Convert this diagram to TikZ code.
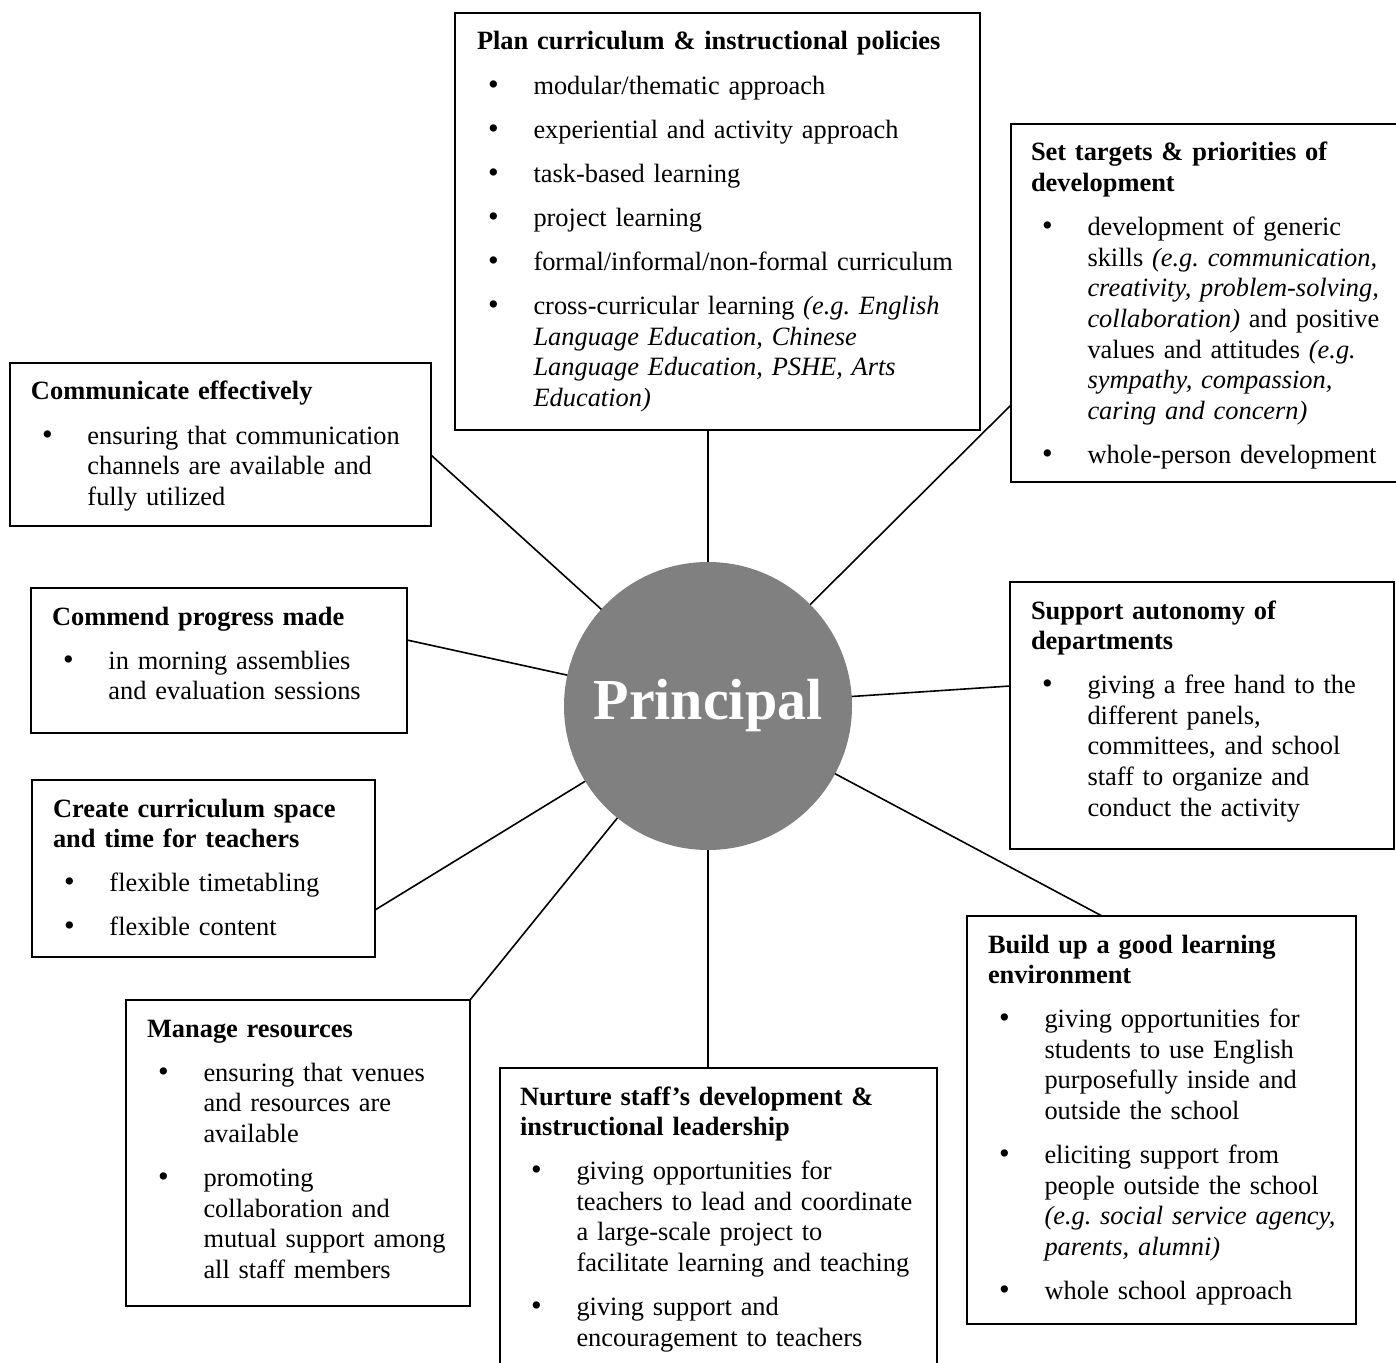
\documentclass[tikz,border=0pt]{standalone}
\usepackage{fontspec}
\setmainfont{Liberation Serif}
\frenchspacing
\definecolor{circgray}{HTML}{808080}
\newcommand{\bxttl}[1]{\noindent\rule{0pt}{18.5pt}\textbf{#1}\par}
\newcommand{\bxitm}[1]{\vspace{6.75pt}\hangindent=28.25pt\hangafter=1\noindent\makebox[28.25pt][l]{\hspace{5.6pt}\scalebox{1.15}{•}}#1\par}
\begin{document}
\begin{tikzpicture}[x=0.5pt,y=-0.5pt,
  bx/.style={draw, line width=1pt, rectangle, inner sep=0pt, outer sep=0pt, anchor=north west},
  txt/.style={anchor=north west, inner sep=0pt, outer sep=0pt, text width=300pt, align=left, font=\fontsize{13.2}{15.3}\selectfont\frenchspacing},
  link/.style={line width=0.8pt}]

\useasboundingbox (0,0) rectangle (1396,1363);
\fill[white] (0,0) rectangle (1396,1363);

% boxes
\node[bx, minimum width=262.5pt, minimum height=208.5pt] (plan) at (455,13) {};
\node[bx, minimum width=199.5pt, minimum height=179pt] (targets) at (1011,124) {};
\node[bx, minimum width=210.5pt, minimum height=81.5pt] (comm) at (10,363) {};
\node[bx, minimum width=188pt, minimum height=72.5pt] (commend) at (31,588) {};
\node[bx, minimum width=171.5pt, minimum height=88.5pt] (create) at (32,780) {};
\node[bx, minimum width=172pt, minimum height=153pt] (manage) at (126,1000) {};
\node[bx, minimum width=218.5pt, minimum height=156pt] (nurture) at (500,1068) {};
\node[bx, minimum width=194.5pt, minimum height=204pt] (build) at (967,916) {};
\node[bx, minimum width=192pt, minimum height=133.5pt] (support) at (1010,582) {};

% texts
\node[txt] (planT) at ([xshift=11pt]plan.north west) {%
\bxttl{Plan curriculum \& instructional policies}
\bxitm{modular/thematic approach}
\bxitm{experiential and activity approach}
\bxitm{task-based learning}
\bxitm{project learning}
\bxitm{formal/informal/non-formal curriculum}
\bxitm{cross-curricular learning \textit{(e.g. English}\newline\textit{Language Education, Chinese}\newline\textit{Language Education, PSHE, Arts}\newline\textit{Education)}}};

\node[txt] (targetsT) at ([xshift=10pt]targets.north west) {%
\bxttl{Set targets \& priorities of\newline development}
\bxitm{development of generic\newline skills \textit{(e.g. communication,}\newline\textit{creativity, problem-solving,}\newline\textit{collaboration)} and positive\newline values and attitudes \textit{(e.g.}\newline\textit{sympathy, compassion,}\newline\textit{caring and concern)}}
\bxitm{whole-person development}};

\node[txt] (commT) at ([xshift=10.5pt]comm.north west) {%
\bxttl{Communicate effectively}
\bxitm{ensuring that communication\newline channels are available and\newline fully utilized}};

\node[txt] (commendT) at ([xshift=10.5pt]commend.north west) {%
\bxttl{Commend progress made}
\bxitm{in morning assemblies\newline and evaluation sessions}};

\node[txt] (createT) at ([xshift=10.5pt]create.north west) {%
\bxttl{Create curriculum space\newline and time for teachers}
\bxitm{flexible timetabling}
\bxitm{flexible content}};

\node[txt] (manageT) at ([xshift=10.5pt]manage.north west) {%
\bxttl{Manage resources}
\bxitm{ensuring that venues\newline and resources are\newline available}
\bxitm{promoting\newline collaboration and\newline mutual support among\newline all staff members}};

\node[txt] (nurtureT) at ([xshift=10pt]nurture.north west) {%
\bxttl{Nurture staff’s development \&\newline instructional leadership}
\bxitm{giving opportunities for\newline teachers to lead and coordinate\newline a large-scale project to\newline facilitate learning and teaching}
\bxitm{giving support and\newline encouragement to teachers}};

\node[txt] (buildT) at ([xshift=10.5pt]build.north west) {%
\bxttl{Build up a good learning\newline environment}
\bxitm{giving opportunities for\newline students to use English\newline purposefully inside and\newline outside the school}
\bxitm{eliciting support from\newline people outside the school\newline\textit{(e.g. social service agency,}\newline\textit{parents, alumni)}}
\bxitm{whole school approach}};

\node[txt] (supportT) at ([xshift=10.5pt]support.north west) {%
\bxttl{Support autonomy of\newline departments}
\bxitm{giving a free hand to the\newline different panels,\newline committees, and school\newline staff to organize and\newline conduct the activity}};

% centre
\node[circle, fill=circgray, minimum size=144pt, inner sep=0pt, outer sep=0pt, text=white,
  font=\fontsize{29}{34}\selectfont\bfseries] (principal) at (708,706) {Principal};

% connectors
\draw[link] (principal) -- (plan.south -| principal);
\draw[link] (principal) -- (nurture.north -| principal);
\draw[link] (principal) -- (targets.west |- 0,405);
\draw[link] (principal) -- (comm.east |- 0,455);
\draw[link] (principal) -- (commend.east |- 0,640);
\draw[link] (principal) -- (support.west |- 0,686);
\draw[link] (principal) -- (build.north -| 1102,0);
\draw[link] (principal) -- (create.east |- 0,910);
\draw[link] (principal) -- (manage.north east);
\end{tikzpicture}
\end{document}
